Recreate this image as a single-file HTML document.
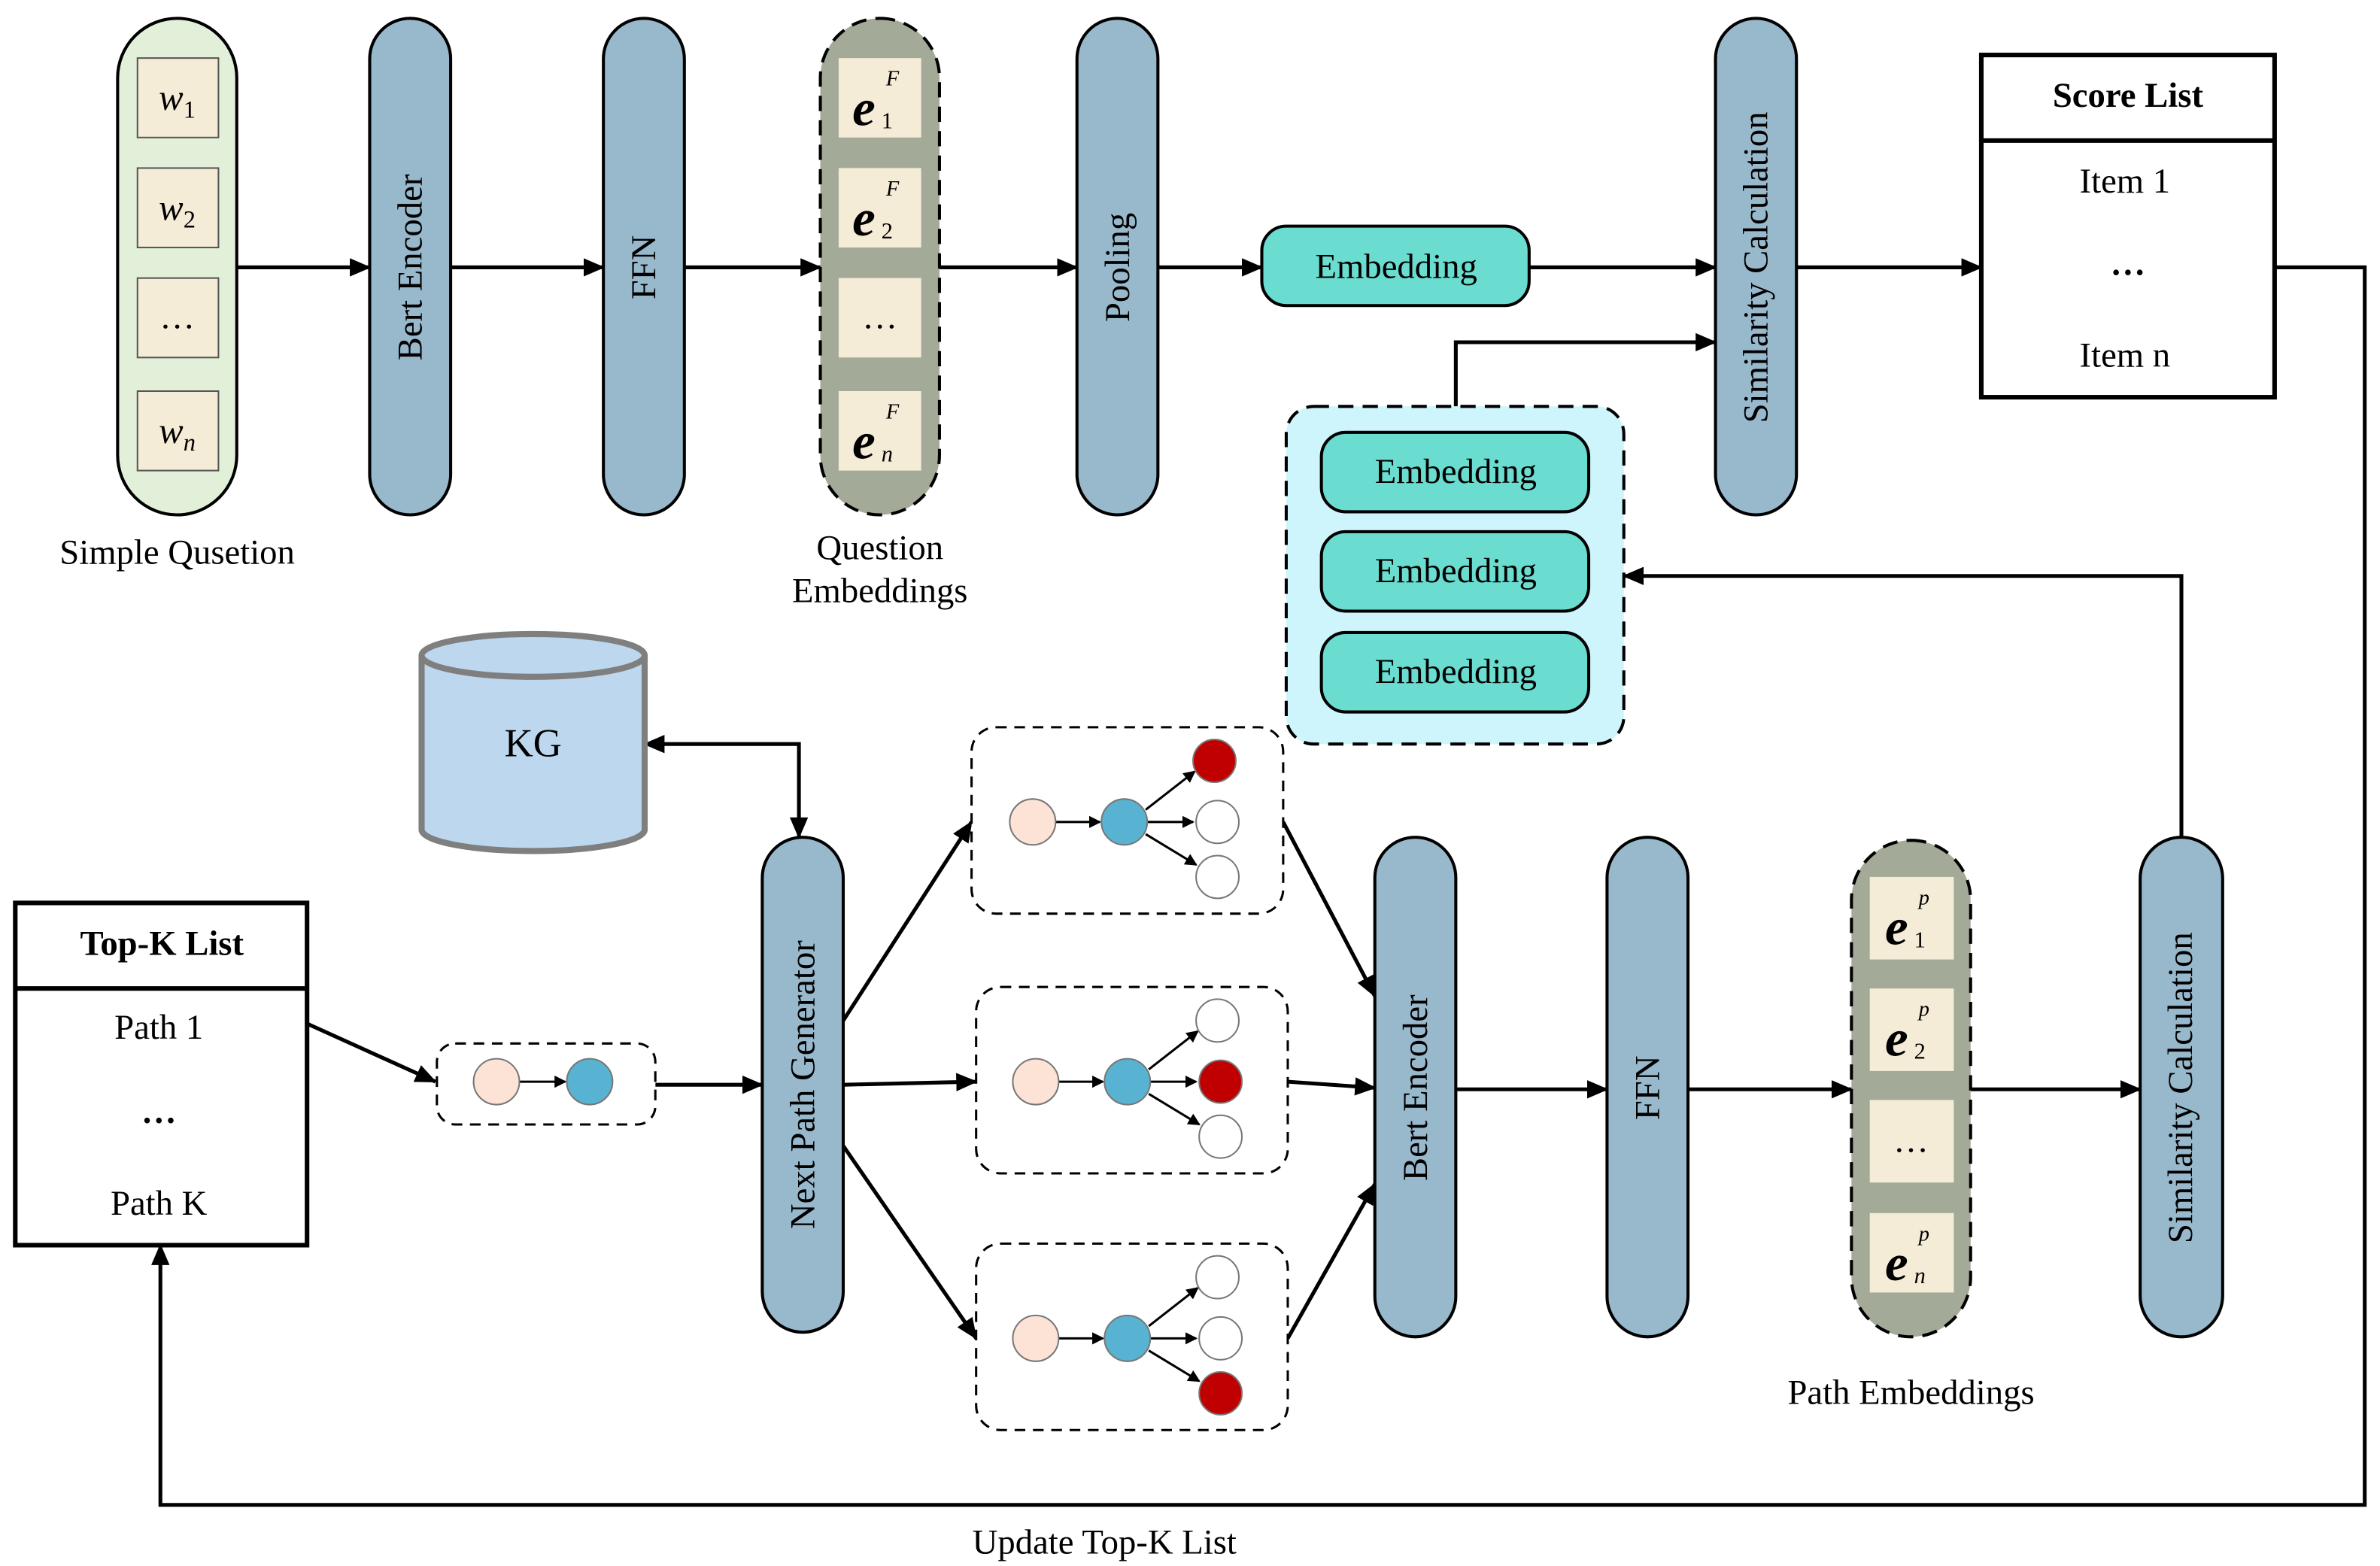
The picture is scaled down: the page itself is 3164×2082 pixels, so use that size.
<!DOCTYPE html>
<html><head><meta charset="utf-8"><style>
html,body{margin:0;padding:0;background:#fff}
svg{display:block}
text{font-family:"Liberation Serif",serif;fill:#000}
</style></head><body>
<svg width="3164" height="2082" viewBox="0 0 1558 1025" preserveAspectRatio="none" xmlns="http://www.w3.org/2000/svg">
<defs>
<marker id="as" markerWidth="14" markerHeight="12" refX="13" refY="6" orient="auto-start-reverse" markerUnits="userSpaceOnUse"><path d="M0,0 L14,6 L0,12 Z" fill="#000"/></marker>
<marker id="m" markerWidth="8" markerHeight="8" refX="7" refY="4" orient="auto" markerUnits="userSpaceOnUse"><path d="M0,0 L8,4 L0,8 Z" fill="#000"/></marker>
</defs>
<g stroke="#000" stroke-width="2.5" fill="none">
<line x1="155" y1="175" x2="242" y2="175" marker-end="url(#as)"/>
<line x1="295" y1="175" x2="395" y2="175" marker-end="url(#as)"/>
<line x1="448" y1="175" x2="537" y2="175" marker-end="url(#as)"/>
<line x1="615" y1="175" x2="705" y2="175" marker-end="url(#as)"/>
<line x1="758" y1="175" x2="826" y2="175" marker-end="url(#as)"/>
<line x1="1001" y1="175" x2="1123" y2="175" marker-end="url(#as)"/>
<line x1="1176" y1="175" x2="1297" y2="175" marker-end="url(#as)"/>
<polyline points="953,266 953,224 1123,224" marker-end="url(#as)"/>
<polyline points="1428,548 1428,377 1063,377" marker-end="url(#as)"/>
<polyline points="1489,175 1548,175 1548,985 105,985 105,815" marker-end="url(#as)"/>
<polyline points="422,487 523,487 523,548" marker-start="url(#as)" marker-end="url(#as)"/>
<line x1="201" y1="670" x2="285" y2="708" marker-end="url(#as)"/>
<line x1="429" y1="710" x2="499" y2="710" marker-end="url(#as)"/>
<line x1="552" y1="668" x2="636" y2="538" marker-end="url(#as)"/>
<line x1="552" y1="710" x2="639" y2="708" marker-end="url(#as)"/>
<line x1="552" y1="750" x2="639" y2="876" marker-end="url(#as)"/>
<line x1="840" y1="538" x2="900" y2="652" marker-end="url(#as)"/>
<line x1="843" y1="708" x2="900" y2="712" marker-end="url(#as)"/>
<line x1="843" y1="876" x2="900" y2="775" marker-end="url(#as)"/>
<line x1="953" y1="713" x2="1052" y2="713" marker-end="url(#as)"/>
<line x1="1105" y1="713" x2="1212" y2="713" marker-end="url(#as)"/>
<line x1="1290" y1="713" x2="1401" y2="713" marker-end="url(#as)"/>
</g>
<g stroke="#000" stroke-width="2">
<rect x="77" y="12" width="78" height="325" rx="39" fill="#e2efd9"/>
<rect x="242" y="12" width="53" height="325" rx="26.5" fill="#98b8cc"/>
<rect x="395" y="12" width="53" height="325" rx="26.5" fill="#98b8cc"/>
<rect x="537" y="12" width="78" height="325" rx="39" fill="#a3ab98" stroke-dasharray="10,6"/>
<rect x="705" y="12" width="53" height="325" rx="26.5" fill="#98b8cc"/>
<rect x="826" y="148" width="175" height="52" rx="16" fill="#6adcd0"/>
<rect x="1123" y="12" width="53" height="325" rx="26.5" fill="#98b8cc"/>
<rect x="842" y="266" width="221" height="221" rx="18" fill="#cef5fb" stroke-dasharray="10,6"/>
<rect x="865" y="283" width="175" height="52" rx="16" fill="#6adcd0"/>
<rect x="865" y="348" width="175" height="52" rx="16" fill="#6adcd0"/>
<rect x="865" y="414" width="175" height="52" rx="16" fill="#6adcd0"/>
<rect x="499" y="548" width="53" height="324" rx="26.5" fill="#98b8cc"/>
<rect x="900" y="548" width="53" height="327" rx="26.5" fill="#98b8cc"/>
<rect x="1052" y="548" width="53" height="327" rx="26.5" fill="#98b8cc"/>
<rect x="1212" y="550" width="78" height="325" rx="39" fill="#a3ab98" stroke-dasharray="10,6"/>
<rect x="1401" y="548" width="54" height="327" rx="27" fill="#98b8cc"/>
<rect x="286" y="683" width="143" height="53" rx="12" fill="#fff" stroke-dasharray="7,5" stroke-width="1.5"/>
<rect x="636" y="476" width="204" height="122" rx="16" fill="#fff" stroke-dasharray="7,5" stroke-width="1.5"/>
<rect x="639" y="646" width="204" height="122" rx="16" fill="#fff" stroke-dasharray="7,5" stroke-width="1.5"/>
<rect x="639" y="814" width="204" height="122" rx="16" fill="#fff" stroke-dasharray="7,5" stroke-width="1.5"/>
</g>
<g fill="#f5ecd7" stroke="none">
<rect x="90" y="38" width="53" height="52"/><rect x="90" y="110" width="53" height="52"/><rect x="90" y="182" width="53" height="52"/><rect x="90" y="256" width="53" height="52"/>
<rect x="549" y="38" width="54" height="52"/><rect x="549" y="110" width="54" height="52"/><rect x="549" y="182" width="54" height="52"/><rect x="549" y="256" width="54" height="52"/>
<rect x="1224" y="574" width="55" height="54"/><rect x="1224" y="647" width="55" height="54"/><rect x="1224" y="720" width="55" height="54"/><rect x="1224" y="794" width="55" height="52"/>
</g>
<g stroke="#555" stroke-width="1">
<rect x="90" y="38" width="53" height="52" fill="none"/><rect x="90" y="110" width="53" height="52" fill="none"/><rect x="90" y="182" width="53" height="52" fill="none"/><rect x="90" y="256" width="53" height="52" fill="none"/>
</g>
<rect x="1297" y="36" width="192" height="224" fill="#fff" stroke="#000" stroke-width="3"/>
<line x1="1297" y1="92" x2="1489" y2="92" stroke="#000" stroke-width="3"/>
<rect x="10" y="591" width="191" height="224" fill="#fff" stroke="#000" stroke-width="3"/>
<line x1="10" y1="647" x2="201" y2="647" stroke="#000" stroke-width="3"/>
<path d="M276,429 L276,543 A73,14 0 0 0 422,543 L422,429" fill="#bdd7ee" stroke="#7f7f7f" stroke-width="4"/>
<ellipse cx="349" cy="429" rx="73" ry="14" fill="#bdd7ee" stroke="#7f7f7f" stroke-width="4"/>
<g stroke="#000" stroke-width="1.5" fill="none">
<line x1="340" y1="708" x2="370" y2="708" marker-end="url(#m)"/>
<line x1="691" y1="538" x2="720" y2="538" marker-end="url(#m)"/>
<line x1="750" y1="530" x2="782" y2="505" marker-end="url(#m)"/>
<line x1="751" y1="538" x2="781" y2="538" marker-end="url(#m)"/>
<line x1="750" y1="546" x2="783" y2="566" marker-end="url(#m)"/>
<line x1="693" y1="708" x2="722" y2="708" marker-end="url(#m)"/>
<line x1="752" y1="700" x2="784" y2="675" marker-end="url(#m)"/>
<line x1="753" y1="708" x2="783" y2="708" marker-end="url(#m)"/>
<line x1="752" y1="716" x2="785" y2="736" marker-end="url(#m)"/>
<line x1="693" y1="876" x2="722" y2="876" marker-end="url(#m)"/>
<line x1="752" y1="868" x2="784" y2="843" marker-end="url(#m)"/>
<line x1="753" y1="876" x2="783" y2="876" marker-end="url(#m)"/>
<line x1="752" y1="884" x2="785" y2="904" marker-end="url(#m)"/>
</g>
<g stroke="#777" stroke-width="1">
<circle cx="325" cy="708" r="15" fill="#fde3d6"/><circle cx="386" cy="708" r="15" fill="#57b3d1"/>
<circle cx="676" cy="538" r="15" fill="#fde3d6"/><circle cx="736" cy="538" r="15" fill="#57b3d1"/>
<circle cx="795" cy="498" r="14" fill="#c00000"/><circle cx="797" cy="538" r="14" fill="#fff"/><circle cx="797" cy="574" r="14" fill="#fff"/>
<circle cx="678" cy="708" r="15" fill="#fde3d6"/><circle cx="738" cy="708" r="15" fill="#57b3d1"/>
<circle cx="797" cy="668" r="14" fill="#fff"/><circle cx="799" cy="708" r="14" fill="#c00000"/><circle cx="799" cy="744" r="14" fill="#fff"/>
<circle cx="678" cy="876" r="15" fill="#fde3d6"/><circle cx="738" cy="876" r="15" fill="#57b3d1"/>
<circle cx="797" cy="836" r="14" fill="#fff"/><circle cx="799" cy="876" r="14" fill="#fff"/><circle cx="799" cy="912" r="14" fill="#c00000"/>
</g>
<g font-size="23" text-anchor="middle">
<text x="116" y="72" font-style="italic" font-size="24">w<tspan font-size="16" font-style="normal" dy="5">1</tspan></text>
<text x="116" y="144" font-style="italic" font-size="24">w<tspan font-size="16" font-style="normal" dy="5">2</tspan></text>
<text x="116" y="215">…</text>
<text x="116" y="290" font-style="italic" font-size="24">w<tspan font-size="16" font-style="italic" dy="5">n</tspan></text>
<text x="116" y="369">Simple Qusetion</text>
<text x="576" y="366">Question</text>
<text x="576" y="394">Embeddings</text>
<text x="914" y="182">Embedding</text>
<text x="953" y="316">Embedding</text>
<text x="953" y="381">Embedding</text>
<text x="953" y="447">Embedding</text>
<text x="1393" y="70" font-weight="bold">Score List</text>
<text x="1391" y="126">Item 1</text>
<text x="1393" y="180" font-weight="bold">…</text>
<text x="1391" y="240">Item n</text>
<text x="106" y="625" font-weight="bold">Top-K List</text>
<text x="104" y="680">Path 1</text>
<text x="104" y="735" font-weight="bold">…</text>
<text x="104" y="795">Path K</text>
<text x="349" y="495" font-size="26">KG</text>
<text x="1251" y="919">Path Embeddings</text>
<text x="723" y="1017">Update Top-K List</text>
<text x="576" y="215">…</text>
<text x="1251" y="754">…</text>
<text transform="translate(276,175) rotate(-90)">Bert Encoder</text>
<text transform="translate(429,175) rotate(-90)">FFN</text>
<text transform="translate(739,175) rotate(-90)">Pooling</text>
<text transform="translate(1157,175) rotate(-90)">Similarity Calculation</text>
<text transform="translate(533,710) rotate(-90)">Next Path Generator</text>
<text transform="translate(934,712) rotate(-90)">Bert Encoder</text>
<text transform="translate(1086,712) rotate(-90)">FFN</text>
<text transform="translate(1435,712) rotate(-90)">Similarity Calculation</text>
</g>
<g font-style="italic">
<text x="558" y="82" font-size="34" font-weight="bold">e</text><text x="577" y="84" font-size="15" font-style="normal">1</text><text x="580" y="56" font-size="14">F</text>
<text x="558" y="154" font-size="34" font-weight="bold">e</text><text x="577" y="156" font-size="15" font-style="normal">2</text><text x="580" y="128" font-size="14">F</text>
<text x="558" y="300" font-size="34" font-weight="bold">e</text><text x="577" y="302" font-size="15">n</text><text x="580" y="274" font-size="14">F</text>
<text x="1234" y="618" font-size="34" font-weight="bold">e</text><text x="1253" y="620" font-size="15" font-style="normal">1</text><text x="1256" y="592" font-size="14">p</text>
<text x="1234" y="691" font-size="34" font-weight="bold">e</text><text x="1253" y="693" font-size="15" font-style="normal">2</text><text x="1256" y="665" font-size="14">p</text>
<text x="1234" y="838" font-size="34" font-weight="bold">e</text><text x="1253" y="840" font-size="15">n</text><text x="1256" y="812" font-size="14">p</text>
</g>
</svg>
</body></html>
